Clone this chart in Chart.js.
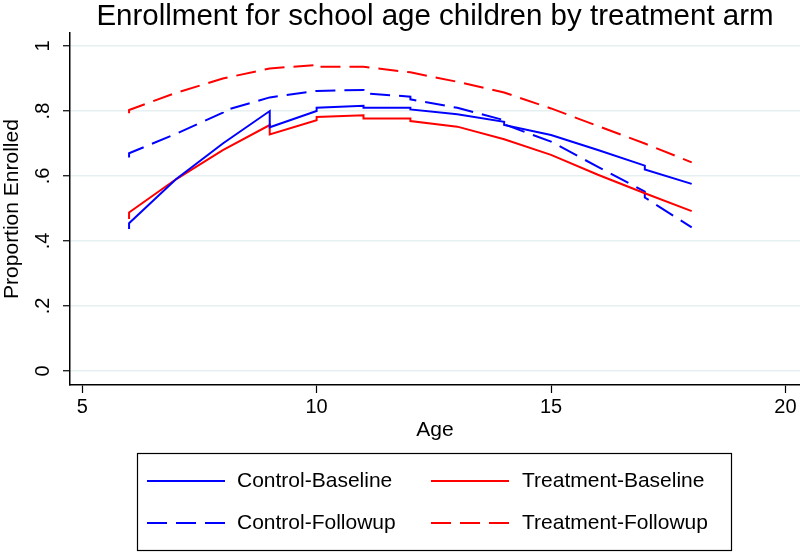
<!DOCTYPE html>
<html>
<head>
<meta charset="utf-8">
<script src="https://cdn.jsdelivr.net/npm/chart.js@4.4.1/dist/chart.umd.min.js"></script>
<style>
  body { margin: 0; background: #fff; }
  canvas { display: block; }
</style>
</head>
<body>
<canvas id="enrollChart" width="800" height="552"></canvas>
<script>
// values (repeated ages = vertical jumps)
const cbAge = [6, 6, 7, 8, 9, 9, 10, 10, 11, 11, 12, 12, 13, 14, 14, 15, 16, 17, 17, 18];
const cbVal = [.437, .455, .59, .70, .80, .75, .80, .81, .816, .81, .81, .805, .79, .767, .757, .726, .68, .632, .62, .576];

const tbAge = [6, 6, 7, 8, 9, 9, 10, 10, 11, 11, 12, 12, 13, 14, 15, 16, 17, 18];
const tbVal = [.468, .488, .59, .68, .757, .728, .772, .782, .787, .777, .777, .769, .752, .713, .665, .604, .547, .492];

const cfAge = [6, 6, 7, 8, 8, 9, 10, 11, 11, 12, 12, 13, 14, 14, 15, 16, 17, 17, 18];
const cfVal = [.657, .67, .73, .795, .80, .842, .862, .865, .855, .844, .836, .81, .772, .759, .706, .628, .552, .534, .442];

const tfAge = [6, 6, 7, 8, 9, 10, 10, 11, 12, 13, 14, 15, 16, 17, 18];
const tfVal = [.793, .803, .856, .90, .931, .942, .936, .936, .919, .89, .857, .808, .754, .70, .642];

const seriesNames = ['Control-Baseline', 'Treatment-Baseline', 'Control-Followup', 'Treatment-Followup'];
const xTicks = [5, 10, 15, 20];
const yTicks = [0, .2, .4, .6, .8, 1];
const yTickLabels = ['0', '.2', '.4', '.6', '.8', '1'];

const BLUE = 'rgb(0, 0, 255)';
const RED = 'rgb(255, 0, 0)';
const DASH = [20, 9];

Chart.defaults.font.family = "'Liberation Sans', Arial, sans-serif";
Chart.defaults.color = '#000';

function toPoints(xs, ys) {
    return xs.map((x, i) => ({ x: x, y: ys[i] }));
}

function makeSet(label, xs, ys, color, dash) {
    return {
        label: label,
        data: toPoints(xs, ys),
        showLine: true,
        borderColor: color,
        backgroundColor: color,
        borderWidth: 2,
        borderDash: dash,
        pointRadius: 0,
        tension: 0,
        fill: false
    };
}

// rotated y tick labels, like Stata
const yLabelsPlugin = {
    id: 'yLabels',
    afterDraw(chart) {
        const ctx = chart.ctx;
        const ys = chart.scales.y;
        ctx.save();
        ctx.fillStyle = '#000';
        ctx.font = "20px 'Liberation Sans', Arial, sans-serif";
        ctx.textAlign = 'center';
        ctx.textBaseline = 'middle';
        yTicks.forEach((v, i) => {
            ctx.save();
            ctx.translate(43, ys.getPixelForValue(v));
            ctx.rotate(-Math.PI / 2);
            ctx.fillText(yTickLabels[i], 0, 0);
            ctx.restore();
        });
        ctx.restore();
    }
};

// boxed two-column legend under the plot
const boxLegendPlugin = {
    id: 'boxLegend',
    afterDraw(chart) {
        const ctx = chart.ctx;
        const sets = chart.data.datasets;
        const rows = [481, 523];
        const cols = [{ line: 147, text: 237 }, { line: 431, text: 522 }];
        ctx.save();
        ctx.strokeStyle = '#000';
        ctx.lineWidth = 1.2;
        ctx.strokeRect(137.5, 453.5, 594, 97);
        ctx.font = "21px 'Liberation Sans', Arial, sans-serif";
        ctx.textBaseline = 'middle';
        ctx.textAlign = 'left';
        ctx.fillStyle = '#000';
        sets.forEach((ds, i) => {
            const r = rows[Math.floor(i / 2)];
            const c = cols[i % 2];
            ctx.beginPath();
            ctx.strokeStyle = ds.borderColor;
            ctx.lineWidth = 2;
            ctx.setLineDash(ds.borderDash || []);
            ctx.moveTo(c.line, r);
            ctx.lineTo(c.line + 78, r);
            ctx.stroke();
            ctx.setLineDash([]);
            ctx.fillText(ds.label, c.text, r);
        });
        ctx.restore();
    }
};

const chartEl = document.getElementById('enrollChart').getContext('2d');
new Chart(chartEl, {
    type: 'scatter',
    plugins: [yLabelsPlugin, boxLegendPlugin],
    data: {
        datasets: [
            makeSet(seriesNames[0], cbAge, cbVal, BLUE, []),
            makeSet(seriesNames[1], tbAge, tbVal, RED, []),
            makeSet(seriesNames[2], cfAge, cfVal, BLUE, DASH),
            makeSet(seriesNames[3], tfAge, tfVal, RED, DASH)
        ]
    },
    options: {
        responsive: false,
        animation: false,
        layout: { padding: { top: 0, left: 0, right: 0, bottom: 107 } },
        plugins: {
            legend: { display: false },
            tooltip: { enabled: false },
            title: {
                display: true,
                text: 'Enrollment for school age children by treatment arm',
                fullSize: false,
                color: '#000',
                font: { size: 29.5, weight: 'normal', lineHeight: 1.12 },
                padding: { top: 0, bottom: 0 }
            }
        },
        scales: {
            x: {
                type: 'linear',
                min: 4.74,
                max: 20.31,
                afterBuildTicks: (s) => { s.ticks = xTicks.map(v => ({ value: v })); },
                afterFit: (s) => { s.height = 60; },
                ticks: { font: { size: 20 }, padding: 2, maxRotation: 0, autoSkip: false },
                grid: { drawOnChartArea: false, tickColor: '#000', tickLength: 8, tickWidth: 1.2 },
                border: { color: '#000', width: 1.5 },
                title: { display: true, text: 'Age', font: { size: 21 }, padding: { top: 0, bottom: 2 } }
            },
            y: {
                type: 'linear',
                min: -0.043,
                max: 1.04,
                afterBuildTicks: (s) => { s.ticks = yTicks.map(v => ({ value: v })); },
                afterFit: (s) => { s.width = 70; },
                ticks: { display: false },
                grid: { color: '#e6eff1', lineWidth: 1.5, tickColor: '#000', tickLength: 7, tickWidth: 1.2 },
                border: { color: '#000', width: 1.5 },
                title: { display: true, text: 'Proportion Enrolled', font: { size: 21 }, padding: { top: 0, bottom: 0 } }
            }
        }
    }
});
</script>
</body>
</html>
